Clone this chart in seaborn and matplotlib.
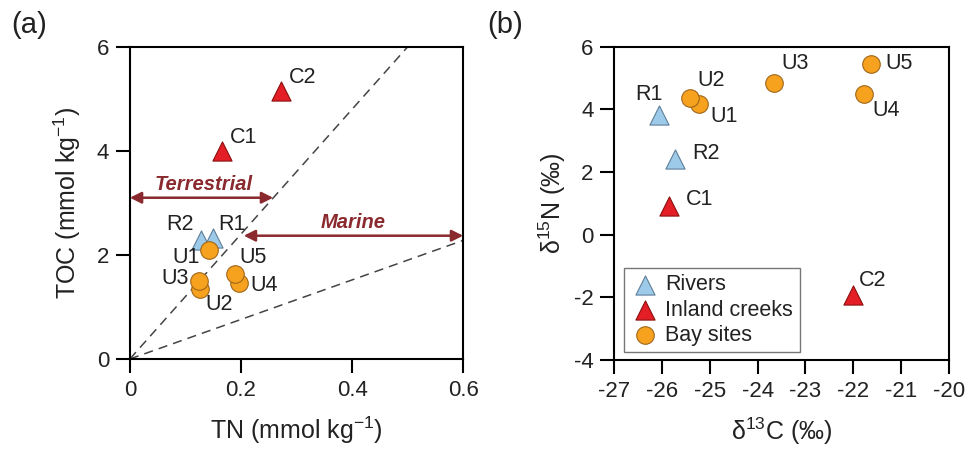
import numpy as np
import pandas as pd
import matplotlib
matplotlib.use("Agg")
import matplotlib.pyplot as plt
import seaborn as sns

sns.set_theme(style="ticks")
plt.rcParams['font.family'] = ['Liberation Sans', 'DejaVu Sans']
plt.rcParams['mathtext.fontset'] = 'custom'
plt.rcParams['mathtext.rm'] = 'Liberation Sans'
plt.rcParams['mathtext.it'] = 'Liberation Sans:italic'
plt.rcParams['axes.unicode_minus'] = False

# ---- data ----
sites = ["R1", "R2", "C1", "C2", "U1", "U2", "U3", "U4", "U5"]
groups = ["Rivers", "Rivers", "Inland creeks", "Inland creeks",
          "Bay sites", "Bay sites", "Bay sites", "Bay sites", "Bay sites"]
tn = [0.150, 0.128, 0.166, 0.272, 0.142, 0.126, 0.124, 0.196, 0.189]
toc = [2.33, 2.28, 4.00, 5.15, 2.10, 1.35, 1.50, 1.46, 1.63]
d13c = [-26.07, -25.72, -25.85, -22.00, -25.22, -25.42, -23.65, -21.77, -21.63]
d15n = [3.83, 2.41, 0.92, -1.92, 4.18, 4.36, 4.84, 4.50, 5.45]
terrestrial_slope = 12.0
marine_slope = 3.8

df = pd.DataFrame({"site": sites, "group": groups, "TN": tn, "TOC": toc,
                   "d13C": d13c, "d15N": d15n})

palette = {"Rivers": "#9ECAE9", "Inland creeks": "#E41E26", "Bay sites": "#F6A21E"}
edges = {"Rivers": "#5F7F99", "Inland creeks": "#8A1010", "Bay sites": "#A0661A"}
markers = {"Rivers": "^", "Inland creeks": "^", "Bay sites": "o"}
order = ["Rivers", "Inland creeks", "Bay sites"]

fig = plt.figure(figsize=(9.69, 4.55), dpi=100)
axA = fig.add_axes([0.134, 0.211, 0.344, 0.686])
axB = fig.add_axes([0.634, 0.209, 0.345, 0.688])

def draw(ax, x, y):
    for g in order:
        sub = df[df.group == g]
        sns.scatterplot(data=sub, x=x, y=y, ax=ax, color=palette[g],
                        marker=markers[g], s=190 if g != "Bay sites" else 160,
                        edgecolor=edges[g], linewidth=0.8, label=g, zorder=3)

lab_fs = 15.5
txt_col = "#222222"
# ---- panel a ----
xx = np.array([0, 0.6])
axA.plot(xx, terrestrial_slope * xx, ls=(0, (6, 4)), color="#444444", lw=1.1, zorder=1)
axA.plot(xx, marine_slope * xx, ls=(0, (6, 4)), color="#444444", lw=1.1, zorder=1)
draw(axA, "TN", "TOC")
axA.legend_.remove()
arrow_col = "#8B2A2E"
axA.annotate("", xy=(0.0, 3.1), xytext=(0.258, 3.1),
             arrowprops=dict(arrowstyle="<|-|>", color=arrow_col, lw=1.8,
                             mutation_scale=17, shrinkA=0, shrinkB=0), zorder=2)
axA.annotate("", xy=(0.205, 2.37), xytext=(0.6, 2.37),
             arrowprops=dict(arrowstyle="<|-|>", color=arrow_col, lw=1.8,
                             mutation_scale=17, shrinkA=0, shrinkB=0),
             annotation_clip=False, zorder=2)
axA.text(0.133, 3.17, "Terrestrial", color=arrow_col, fontsize=14.5,
         fontweight="bold", fontstyle="italic", ha="center", va="bottom")
axA.text(0.402, 2.44, "Marine", color=arrow_col, fontsize=14.5,
         fontweight="bold", fontstyle="italic", ha="center", va="bottom")
labA = {"C2": (0.287, 5.42, "left"), "C1": (0.180, 4.25, "left"),
        "R2": (0.090, 2.58, "center"), "R1": (0.184, 2.58, "center"),
        "U1": (0.101, 1.96, "center"), "U5": (0.222, 1.96, "center"),
        "U3": (0.081, 1.54, "center"), "U4": (0.242, 1.42, "center"),
        "U2": (0.161, 1.04, "center")}
for s, (x, y, ha) in labA.items():
    axA.text(x, y, s, fontsize=lab_fs, ha=ha, va="center", color=txt_col)
axA.set_xlim(0, 0.6)
axA.set_ylim(0, 6)
axA.set_xticks([0, 0.2, 0.4, 0.6])
axA.set_xticklabels(["0", "0.2", "0.4", "0.6"])
axA.set_yticks([0, 2, 4, 6])
axA.set_xlabel("TN (mmol kg$^{-1}$)", fontsize=18, labelpad=10, color=txt_col)
axA.set_ylabel("TOC (mmol kg$^{-1}$)", fontsize=18, labelpad=10, color=txt_col)
fig.text(0.012, 0.945, "(a)", fontsize=21, ha="left", va="center", color=txt_col)

# ---- panel b ----
draw(axB, "d13C", "d15N")
labB = {"R1": (-26.28, 4.48, "center"), "U2": (-24.98, 4.92, "center"),
        "U1": (-24.71, 3.77, "center"), "R2": (-25.08, 2.60, "center"),
        "C1": (-25.21, 1.12, "center"), "U3": (-23.22, 5.48, "center"),
        "U5": (-21.04, 5.48, "center"), "U4": (-21.30, 3.98, "center"),
        "C2": (-21.59, -1.45, "center")}
for s, (x, y, ha) in labB.items():
    axB.text(x, y, s, fontsize=lab_fs, ha=ha, va="center", color=txt_col)
axB.set_xlim(-27, -20)
axB.set_ylim(-4, 6)
axB.set_xticks(range(-27, -19))
axB.set_yticks(range(-4, 7, 2))
axB.set_xlabel("δ$^{13}$C (‰)", fontsize=18, labelpad=10, color=txt_col)
axB.set_ylabel("δ$^{15}$N (‰)", fontsize=18, labelpad=4, color=txt_col)
leg = axB.legend(loc="lower left", bbox_to_anchor=(-0.002, -0.01), fontsize=15.5,
                 frameon=True, fancybox=False, edgecolor="#555555",
                 handletextpad=0.3, borderpad=0.3, labelspacing=0.2,
                 handlelength=1.3, markerscale=1.0)
leg.get_frame().set_linewidth(1.0)
for t in leg.get_texts():
    t.set_color(txt_col)
fig.text(0.503, 0.945, "(b)", fontsize=21, ha="left", va="center", color=txt_col)

for ax in (axA, axB):
    for sp in ax.spines.values():
        sp.set_visible(True)
        sp.set_linewidth(1.5)
        sp.set_color("black")
    ax.tick_params(direction="out", length=10, width=1.5, labelsize=16,
                   pad=5, colors="black", labelcolor=txt_col)

fig.savefig("out.png", dpi=100)
